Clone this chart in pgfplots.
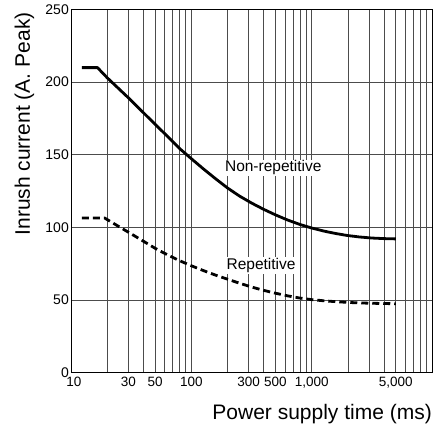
\documentclass[border=0pt]{standalone}
\usepackage{fontspec}
\setmainfont{Liberation Sans}
\usepackage{pgfplots}
\pgfplotsset{compat=1.18}
\begin{document}
\begin{tikzpicture}
\begin{axis}[
    at={(0,0)}, anchor=south west,
    scale only axis, width=361pt, height=363.2pt,
    xmode=log, xmin=10, xmax=10000, ymin=0, ymax=250,
    xtick={10,30,50,100,300,500,1000,5000},
    xticklabels={{\kern6pt 10},30,50,100,300,500,{1,000},{5,000}},
    minor xtick={20,40,60,70,80,90,200,400,600,700,800,900,2000,3000,4000,6000,7000,8000,9000},
    ytick={0,50,...,250},
    grid=both,
    major grid style={black!70, line width=0.7pt},
    minor grid style={black!70, line width=0.7pt},
    axis line style={black, line width=0.9pt},
    major tick length=0pt, minor tick length=0pt,
    /pgf/number format/assume math mode=true,
    xticklabel style={font=\fontsize{13.5}{14}\selectfont, yshift=-1pt},
    yticklabel style={font=\fontsize{14}{15}\selectfont, inner sep=2pt},
    xlabel={Power supply time (ms)},
    ylabel={Inrush current (A. Peak)},
    xlabel style={at={(rel axis cs:1,0)}, anchor=base east, inner sep=0pt,
        yshift=-46.3pt, font=\fontsize{21}{24}\selectfont},
    ylabel style={at={(rel axis cs:0,0.685)}, anchor=center, inner sep=0pt,
        yshift=46.5pt, font=\fontsize{21}{24}\selectfont},
]
% non-repetitive
\addplot[black, line width=2.8pt, line join=round] coordinates {
    (12.3,210) (16.6,210) (20,203) (30,189.2) (50,171) (63.1,162.8)
    (79.4,154.5) (100,147.3) (125.9,140.3) (158.5,133.6) (199.5,127.2)
    (251.2,121.6) (316.2,116.8) (398.1,112.5) (501.2,108.6) (631,105.1)
    (794.3,102.1) (1000,99.6) (1259,97.5) (1585,95.8) (1995,94.4)
    (2512,93.4) (3162,92.7) (3981,92.3) (5000,92.1)
};
% repetitive
\addplot[black, line width=2.8pt, dash pattern=on 7pt off 4pt] coordinates {
    (12.3,106.5) (19,106.5) (25.1,100.5) (31.6,95.6) (39.8,90.6)
    (50.1,85.6) (63.1,81.2) (79.4,77.2) (100,73.6) (125.9,70.3)
    (158.5,67.2) (199.5,64.4) (251.2,61.6) (316.2,59.0) (398.1,56.7)
    (501.2,54.7) (631,52.9) (794.3,51.4) (1000,50.3) (1259,49.5)
    (1585,48.9) (1995,48.4) (2512,48.0) (3162,47.8) (3981,47.6) (5000,47.5)
};
\node[fill=white, inner sep=1pt, font=\fontsize{15.5}{16}\selectfont]
    at (axis cs:480,141) {Non-repetitive};
\node[fill=white, inner sep=1pt, font=\fontsize{15.5}{16}\selectfont]
    at (axis cs:380,73.7) {Repetitive};
\end{axis}
\pgfresetboundingbox
\path[use as bounding box] (-71pt,-52.3pt) rectangle (367pt,372.7pt);
\end{tikzpicture}
\end{document}
